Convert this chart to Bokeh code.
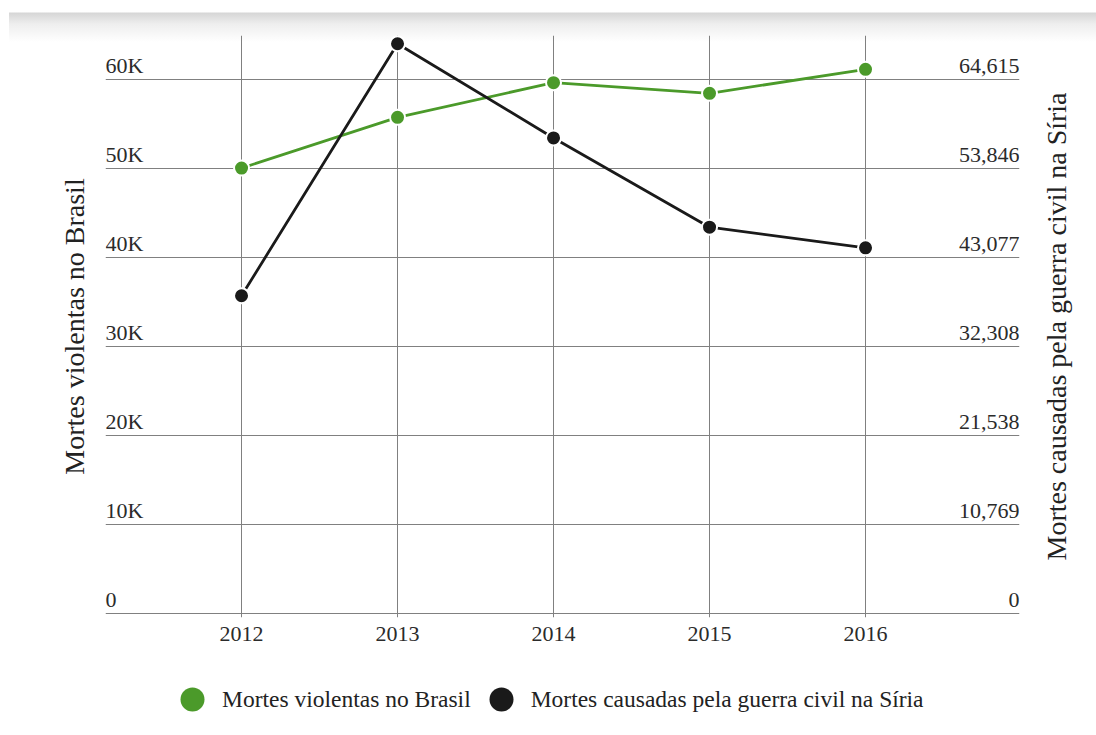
from bokeh.plotting import figure
from bokeh.models import (Range1d, LinearAxis, FixedTicker, ColumnDataSource,
                          Legend, LegendItem)
from bokeh.layouts import column, row
from bokeh.core.properties import value
from bokeh.embed import file_html
from bokeh.resources import INLINE

# ---- data ----
years = [2012, 2013, 2014, 2015, 2016]
brasil = [50100, 55800, 59700, 58500, 61200]
siria = [38500, 69000, 57600, 46800, 44300]

left_ticks = [0, 10000, 20000, 30000, 40000, 50000, 60000]
left_labels = ["0", "10K", "20K", "30K", "40K", "50K", "60K"]
right_ticks = [0, 10769, 21538, 32308, 43077, 53846, 64615]
right_labels = ["0", "10,769", "21,538", "32,308", "43,077", "53,846", "64,615"]

label_brasil = "Mortes violentas no Brasil"
label_siria = "Mortes causadas pela guerra civil na Síria"

GREEN = "#4b9a2a"
BLACK = "#1a1a1a"
FONT = "Liberation Serif"
GRID = "#808080"
GRADIENT = "linear-gradient(to bottom, #ffffff 0px, #ffffff 12px, #d6d6d6 13px, #eeeeee 24px, #ffffff 42px)"

x0, x1 = 2011.128, 2016.987
y_top = 65000
y_bot = -416
ratio = 70000 / 65000


def title_axis(ax, text, standoff):
    ax.ticker = FixedTicker(ticks=[])
    ax.axis_line_color = None
    ax.major_tick_line_color = None
    ax.minor_tick_line_color = None
    ax.major_tick_out = 0
    ax.major_label_standoff = 0
    ax.axis_label = text
    ax.axis_label_standoff = standoff
    ax.axis_label_text_font = FONT
    ax.axis_label_text_font_size = "28px"
    ax.axis_label_text_font_style = "normal"
    ax.axis_label_text_color = "#222222"


p = figure(frame_width=914, frame_height=582,
           min_border_left=105, min_border_right=18,
           min_border_top=35, min_border_bottom=43,
           x_range=Range1d(x0, x1), y_range=Range1d(y_bot, y_top),
           output_backend="svg", toolbar_location=None,
           background_fill_color=None, border_fill_color=None)
p.styles = {"background": GRADIENT + " 9px 0 / 1028px 42px no-repeat, #ffffff"}
p.outline_line_color = None
p.extra_y_ranges = {"right": Range1d(y_bot * ratio, y_top * ratio)}

# grids
p.xgrid.ticker = FixedTicker(ticks=years)
p.ygrid.ticker = FixedTicker(ticks=left_ticks)
for g in (p.xgrid, p.ygrid):
    g.grid_line_color = GRID
    g.grid_line_width = 1

# x axis
xa = p.xaxis[0]
xa.ticker = FixedTicker(ticks=years)
xa.axis_line_color = None
xa.major_tick_line_color = None
xa.minor_tick_line_color = None
xa.major_tick_out = 0
xa.major_label_standoff = 9
xa.major_label_text_font = FONT
xa.major_label_text_font_size = "22px"
xa.major_label_text_color = "#2b2b2b"

# left axis: title only
title_axis(p.yaxis[0], label_brasil, 16)

# tick labels inside the plot
lsrc = ColumnDataSource(dict(x=[x0] * len(left_ticks), y=left_ticks, t=left_labels))
p.text(x="x", y="y", text="t", source=lsrc, text_align="left",
       text_baseline="alphabetic", y_offset=-14,
       text_font=value(FONT), text_font_size="22px", text_color="#2b2b2b")
rsrc = ColumnDataSource(dict(x=[x1] * len(right_ticks), y=right_ticks, t=right_labels))
p.text(x="x", y="y", text="t", source=rsrc, text_align="right",
       text_baseline="alphabetic", y_offset=-14, y_range_name="right",
       text_font=value(FONT), text_font_size="22px", text_color="#2b2b2b")

# series
p.line(years, brasil, line_color=GREEN, line_width=2.8)
p.scatter(years, brasil, size=15, fill_color=GREEN, line_color="white", line_width=2)
p.line(years, siria, line_color=BLACK, line_width=2.8, y_range_name="right")
p.scatter(years, siria, size=15, fill_color=BLACK, line_color="white", line_width=2,
          y_range_name="right")

# right-hand title strip (axis title reading bottom-to-top, like the reference)
pt = figure(frame_width=18, frame_height=582,
            min_border_left=40, min_border_right=1,
            min_border_top=35, min_border_bottom=43,
            x_range=Range1d(0, 1), y_range=Range1d(y_bot * ratio, y_top * ratio),
            output_backend="svg", toolbar_location=None,
            background_fill_color=None, border_fill_color=None)
pt.styles = {"background": GRADIENT + " 0 0 / 59px 42px no-repeat, #ffffff"}
pt.outline_line_color = None
pt.grid.visible = False
pt.xaxis.visible = False
title_axis(pt.yaxis[0], label_siria, 25)

# legend in its own strip below the chart (proxy markers sit outside its range)
lp = figure(frame_width=1096, frame_height=75, min_border=0,
            x_range=Range1d(0, 1), y_range=Range1d(0, 1),
            output_backend="svg", toolbar_location=None,
            background_fill_color=None, border_fill_color=None)
lp.outline_line_color = None
lp.axis.visible = False
lp.grid.visible = False
lg_b = lp.scatter([-5], [-5], size=24, fill_color=GREEN, line_color=None)
lg_s = lp.scatter([-5], [-5], size=24, fill_color=BLACK, line_color=None)
legend = Legend(items=[LegendItem(label=label_brasil, renderers=[lg_b]),
                       LegendItem(label=label_siria, renderers=[lg_s])],
                orientation="horizontal", location=(162, 6),
                glyph_width=60, glyph_height=60, label_standoff=0, spacing=0,
                padding=0, margin=0, border_line_color=None,
                background_fill_alpha=0,
                label_text_font=FONT, label_text_font_size="23.5px",
                label_text_color="#222222")
lp.add_layout(legend, "center")

layout = column(row(p, pt, spacing=0), lp, spacing=0)
open("out.html", "w").write(file_html(layout, INLINE))
